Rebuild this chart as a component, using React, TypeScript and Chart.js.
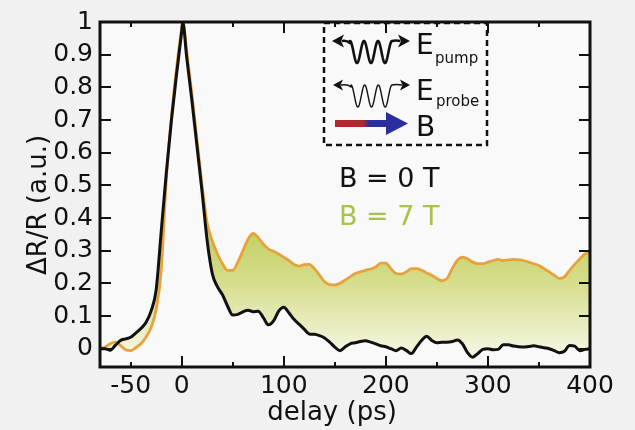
import React, { useEffect, useRef } from 'react';
import { Chart, registerables } from 'chart.js';

Chart.register(...registerables);

// ---- data ----
const delays = [
  -80, -75, -70, -65, -60, -55, -50, -45, -40, -35, -30, -25, -20, -15, -10, -5,
  0, 1, 5, 10, 15, 20, 25, 30, 35, 40, 45, 50, 55, 60, 65, 70, 75, 80, 85, 90, 95,
  100, 105, 110, 115, 120, 125, 130, 135, 140, 145, 150, 155, 160, 165, 170, 175,
  180, 185, 190, 195, 200, 205, 210, 215, 220, 225, 230, 235, 240, 245, 250, 255,
  260, 265, 270, 275, 280, 285, 290, 295, 300, 305, 310, 315, 320, 325, 330, 335,
  340, 345, 350, 355, 360, 365, 370, 375, 380, 385, 390, 395, 400,
];

const signalB0 = [
  0.0, 0.0, -0.005, 0.01, 0.025, 0.03, 0.035, 0.048, 0.062, 0.08, 0.115, 0.18, 0.36, 0.54, 0.7, 0.84,
  0.97, 1.0, 0.89, 0.76, 0.62, 0.48, 0.33, 0.23, 0.19, 0.165, 0.13, 0.103, 0.105, 0.113, 0.118, 0.113, 0.115, 0.095, 0.073, 0.085, 0.115,
  0.127, 0.11, 0.09, 0.075, 0.06, 0.045, 0.044, 0.04, 0.033, 0.02, 0.005, -0.006, 0.005, 0.015, 0.018, 0.022,
  0.024, 0.02, 0.015, 0.009, 0.006, 0.0, -0.006, 0.002, -0.005, -0.015, 0.005, 0.025, 0.038, 0.025, 0.018, 0.02,
  0.02, 0.022, 0.027, 0.015, -0.012, -0.026, -0.015, -0.002, 0.0, -0.003, -0.002, 0.012, 0.012, 0.008, 0.006, 0.005,
  0.007, 0.009, 0.006, 0.003, 0.0, -0.006, -0.012, -0.008, 0.01, 0.008, -0.006, -0.002, 0.0,
];

const signalB7 = [
  0.0, 0.005, 0.015, 0.02, 0.01, -0.003, -0.006, 0.003, 0.015, 0.035, 0.065, 0.12, 0.24, 0.52, 0.71, 0.86,
  0.98, 1.0, 0.91, 0.78, 0.64, 0.5, 0.385, 0.33, 0.29, 0.26, 0.24, 0.24, 0.265, 0.3, 0.335, 0.353, 0.34, 0.32, 0.305, 0.298, 0.29,
  0.28, 0.27, 0.258, 0.253, 0.257, 0.258, 0.245, 0.225, 0.205, 0.196, 0.195, 0.2, 0.21, 0.22, 0.23, 0.235,
  0.24, 0.244, 0.25, 0.262, 0.262, 0.245, 0.23, 0.228, 0.235, 0.245, 0.245, 0.24, 0.232, 0.225, 0.215, 0.208,
  0.215, 0.245, 0.27, 0.28, 0.275, 0.265, 0.26, 0.26, 0.265, 0.27, 0.273, 0.27, 0.272, 0.273, 0.272, 0.27,
  0.265, 0.26, 0.255, 0.245, 0.235, 0.225, 0.215, 0.22, 0.24, 0.258, 0.275, 0.29, 0.295,
];

const xLabeledTicks = [-50, 0, 100, 200, 300, 400];
const xLimits = [-80, 400];
const yLimits = [-0.056, 1];
const xTitle = 'delay (ps)';
const yTitle = 'ΔR/R (a.u.)';
const seriesLabels = ['B = 0 T', 'B = 7 T'];

const FONT = '"DejaVu Sans", sans-serif';
const INK = '#111111';
const ORANGE = '#e8a23c';
const GREEN_TEXT = '#a9c24b';

function waveArrow(ctx: CanvasRenderingContext2D, x0: number, x1: number, yb: number, lw: number, head: number) {
  ctx.save();
  ctx.strokeStyle = INK;
  ctx.fillStyle = INK;
  ctx.lineWidth = lw;
  ctx.lineJoin = 'round';
  const w0 = x0 + 18;
  const w1 = x1 - 18;
  ctx.beginPath();
  ctx.moveTo(x0 + head * 0.8, yb);
  ctx.quadraticCurveTo(w0 - 3, yb - 1, w0, yb + 2);
  for (let i = 0; i <= 90; i++) {
    const t = i / 90;
    const px = w0 + (w1 - w0) * t;
    const py = yb + 11 - 11 * Math.cos(6 * Math.PI * t);
    ctx.lineTo(px, py);
  }
  ctx.quadraticCurveTo(w1 + 4, yb - 1, x1 - head * 0.8, yb);
  ctx.stroke();
  const hh = head * 0.55;
  ctx.beginPath();
  ctx.moveTo(x0, yb);
  ctx.lineTo(x0 + head, yb - hh);
  ctx.lineTo(x0 + head * 0.75, yb);
  ctx.lineTo(x0 + head, yb + hh);
  ctx.closePath();
  ctx.fill();
  ctx.beginPath();
  ctx.moveTo(x1, yb);
  ctx.lineTo(x1 - head, yb - hh);
  ctx.lineTo(x1 - head * 0.75, yb);
  ctx.lineTo(x1 - head, yb + hh);
  ctx.closePath();
  ctx.fill();
  ctx.restore();
}

const decorPlugin = {
  id: 'decor',
  beforeDraw(chart: any) {
    const { ctx, chartArea: a, width, height } = chart;
    ctx.save();
    ctx.fillStyle = '#f1f1f1';
    ctx.fillRect(0, 0, width, height);
    ctx.fillStyle = '#f9f9f9';
    ctx.fillRect(a.left, a.top, a.right - a.left, a.bottom - a.top);
    ctx.restore();
  },
  afterDraw(chart: any) {
    const { ctx, chartArea: a, scales } = chart;
    const xs = scales.x;
    const ys = scales.y;
    ctx.save();
    // inward ticks on all four sides
    ctx.strokeStyle = INK;
    ctx.lineWidth = 2;
    ctx.beginPath();
    xs.ticks.forEach((t: any) => {
      const px = Math.round(xs.getPixelForValue(t.value));
      const len = t.value % 100 === 0 ? 11 : 5;
      ctx.moveTo(px, a.bottom);
      ctx.lineTo(px, a.bottom - len);
      ctx.moveTo(px, a.top);
      ctx.lineTo(px, a.top + len);
    });
    ys.ticks.forEach((t: any) => {
      const py = Math.round(ys.getPixelForValue(t.value));
      ctx.moveTo(a.left, py);
      ctx.lineTo(a.left + 11, py);
      ctx.moveTo(a.right, py);
      ctx.lineTo(a.right - 11, py);
    });
    ctx.stroke();
    // frame
    ctx.lineWidth = 3;
    ctx.strokeRect(a.left, a.top, a.right - a.left, a.bottom - a.top);

    // axis titles
    ctx.fillStyle = INK;
    ctx.font = `26px ${FONT}`;
    ctx.textAlign = 'center';
    ctx.textBaseline = 'alphabetic';
    ctx.fillText(xTitle, 332, 420);
    ctx.save();
    ctx.translate(46, 205);
    ctx.rotate(-Math.PI / 2);
    ctx.fillText(yTitle, 0, 0);
    ctx.restore();

    // inset legend box
    ctx.save();
    ctx.setLineDash([6, 4]);
    ctx.lineWidth = 2.5;
    ctx.strokeRect(324, 23, 163, 122);
    ctx.restore();

    waveArrow(ctx, 332, 410, 41, 2.6, 12);
    waveArrow(ctx, 333, 410, 85, 1.4, 10);

    // B arrow: red -> blue
    const grad = ctx.createLinearGradient(335, 0, 390, 0);
    grad.addColorStop(0, '#b3262c');
    grad.addColorStop(0.5, '#b3262c');
    grad.addColorStop(0.62, '#2d2e9e');
    grad.addColorStop(1, '#2d2e9e');
    ctx.fillStyle = grad;
    ctx.fillRect(335, 120, 54, 7);
    ctx.fillStyle = '#2d2e9e';
    ctx.beginPath();
    ctx.moveTo(386, 112);
    ctx.lineTo(408, 123.5);
    ctx.lineTo(386, 135);
    ctx.closePath();
    ctx.fill();

    ctx.fillStyle = INK;
    ctx.textAlign = 'left';
    ctx.font = `28px ${FONT}`;
    ctx.fillText('E', 416, 54);
    ctx.fillText('E', 416, 100);
    ctx.fillText('B', 416, 136);
    ctx.font = `15px ${FONT}`;
    ctx.fillText('pump', 435, 63);
    ctx.fillText('probe', 436, 106);

    // series labels
    ctx.font = `27px ${FONT}`;
    ctx.fillStyle = INK;
    ctx.fillText(seriesLabels[0], 339, 187);
    ctx.fillStyle = GREEN_TEXT;
    ctx.fillText(seriesLabels[1], 339, 225);
    ctx.restore();
  },
};

export default function App() {
  const canvasRef = useRef<HTMLCanvasElement | null>(null);

  useEffect(() => {
    const canvas = canvasRef.current;
    if (!canvas) return;
    const fillGradient = (c: any) => {
      const chart = c.chart;
      const { chartArea, scales } = chart;
      if (!chartArea) return 'rgba(200,210,110,0.6)';
      const y0 = scales.y.getPixelForValue(0.36);
      const y1 = scales.y.getPixelForValue(0);
      const g = chart.ctx.createLinearGradient(0, y0, 0, y1);
      g.addColorStop(0, '#c2cf62');
      g.addColorStop(0.45, '#d6de8e');
      g.addColorStop(1, '#f4f4dc');
      return g;
    };

    const chart = new Chart(canvas, {
      type: 'line',
      data: {
        labels: delays,
        datasets: [
          {
            label: seriesLabels[0],
            data: delays.map((d, i) => ({ x: d, y: signalB0[i] })),
            borderColor: INK,
            borderWidth: 3,
            pointRadius: 0,
            fill: false,
            cubicInterpolationMode: 'monotone',
          },
          {
            label: seriesLabels[1],
            data: delays.map((d, i) => ({ x: d, y: signalB7[i] })),
            borderColor: ORANGE,
            borderWidth: 2.8,
            pointRadius: 0,
            fill: { target: '-1' } as any,
            backgroundColor: fillGradient,
            cubicInterpolationMode: 'monotone',
          },
        ],
      },
      options: {
        responsive: false,
        animation: false,
        devicePixelRatio: 1,
        layout: { padding: { top: 9, right: 45, left: 0, bottom: 0 } },
        plugins: {
          legend: { display: false },
          tooltip: { enabled: false },
        },
        scales: {
          x: {
            type: 'linear',
            min: xLimits[0],
            max: xLimits[1],
            grid: { display: false, drawTicks: false },
            border: { display: false },
            afterFit: (s: any) => {
              s.height = 63;
            },
            ticks: {
              stepSize: 50,
              includeBounds: false,
              padding: 4,
              color: INK,
              font: { family: FONT, size: 25 },
              maxRotation: 0,
              autoSkip: false,
              callback: (v: any) => (xLabeledTicks.includes(Number(v)) ? String(v) : ''),
            },
          },
          y: {
            type: 'linear',
            min: yLimits[0],
            max: yLimits[1],
            grid: { display: false, drawTicks: false },
            border: { display: false },
            afterFit: (s: any) => {
              s.width = 100;
            },
            ticks: {
              stepSize: 0.1,
              includeBounds: false,
              padding: 7,
              color: INK,
              font: { family: FONT, size: 25 },
              autoSkip: false,
              callback: (v: any) => String(Number(Number(v).toFixed(1))),
            },
          },
        },
      },
      plugins: [decorPlugin],
    });
    return () => chart.destroy();
  }, []);

  return (
    <div style={{ position: 'fixed', left: 0, top: 0, width: 635, height: 430 }}>
      <canvas ref={canvasRef} width={635} height={430} />
    </div>
  );
}
